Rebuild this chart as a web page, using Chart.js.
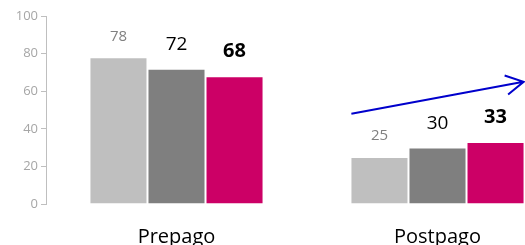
<!DOCTYPE html>
<html>
<head>
<meta charset="utf-8">
<script src="https://cdn.jsdelivr.net/npm/chart.js@4.4.0/dist/chart.umd.min.js"></script>
<style>
  html, body { margin: 0; padding: 0; overflow: hidden; background: #fff; }
  #wrap { width: 568px; height: 245px; position: relative; }
</style>
</head>
<body>
<div id="wrap"><canvas id="chart"></canvas></div>
<script>
const categories = ['Prepago', 'Postpago'];
const seriesA = [78, 25];
const seriesB = [72, 30];
const seriesC = [68, 33];
const yTicks = [0, 20, 40, 60, 80, 100];
// arrow as [category position, value]
const arrowFrom = [0.67, 48];
const arrowTo = [1.33, 65];

const labelStyles = [
    { color: '#808080', font: 'normal 15px "Open Sans"', offset: 21 },
    { color: '#000000', font: 'normal 19px "Open Sans"', offset: 24 },
    { color: '#000000', font: 'bold 20px "Open Sans"', offset: 25 }
];

const valueLabels = {
    id: 'valueLabels',
    afterDatasetsDraw(chart) {
        const ctx = chart.ctx;
        chart.data.datasets.forEach((ds, i) => {
            const st = labelStyles[i];
            chart.getDatasetMeta(i).data.forEach((bar, j) => {
                ctx.save();
                ctx.fillStyle = st.color;
                ctx.font = st.font;
                ctx.textAlign = 'center';
                ctx.textBaseline = 'middle';
                ctx.fillText(String(ds.data[j]), bar.x, bar.y - st.offset);
                ctx.restore();
            });
        });
    }
};

const trendArrow = {
    id: 'trendArrow',
    afterDatasetsDraw(chart) {
        const x = chart.scales.x, y = chart.scales.y, ctx = chart.ctx;
        const x1 = x.getPixelForValue(arrowFrom[0]), y1 = y.getPixelForValue(arrowFrom[1]);
        const x2 = x.getPixelForValue(arrowTo[0]), y2 = y.getPixelForValue(arrowTo[1]);
        const ang = Math.atan2(y2 - y1, x2 - x1);
        const len = 20, spread = 0.5;
        ctx.save();
        ctx.strokeStyle = '#0000CC';
        ctx.lineWidth = 2;
        ctx.beginPath();
        ctx.moveTo(x1, y1);
        ctx.lineTo(x2, y2);
        ctx.moveTo(x2 - len * Math.cos(ang - spread), y2 - len * Math.sin(ang - spread));
        ctx.lineTo(x2, y2);
        ctx.lineTo(x2 - len * Math.cos(ang + spread), y2 - len * Math.sin(ang + spread));
        ctx.stroke();
        ctx.restore();
    }
};

new Chart(document.getElementById('chart'), {
    type: 'bar',
    data: {
        labels: categories,
        datasets: [
            { data: seriesA, backgroundColor: '#BFBFBF' },
            { data: seriesB, backgroundColor: '#7F7F7F' },
            { data: seriesC, backgroundColor: '#CC0066' }
        ].map(d => Object.assign(d, { borderColor: '#FFFFFF', borderWidth: 1, categoryPercentage: 0.667, barPercentage: 1 }))
    },
    options: {
        responsive: true,
        maintainAspectRatio: false,
        animation: false,
        layout: { padding: { top: 16, right: 0, bottom: 0, left: 0 } },
        plugins: { legend: { display: false }, tooltip: { enabled: false } },
        scales: {
            x: {
                afterFit: s => { s.height = 41; },
                grid: { display: false },
                border: { display: false },
                ticks: { color: '#000000', font: { family: 'Open Sans', size: 20 }, padding: 13 }
            },
            y: {
                min: 0, max: 100,
                afterBuildTicks: s => { s.ticks = yTicks.map(v => ({ value: v })); },
                afterFit: s => { s.width = 46; },
                grid: { drawOnChartArea: false, drawTicks: true, tickLength: 5, color: '#BFBFBF' },
                border: { display: true, color: '#BFBFBF', width: 1 },
                ticks: { color: '#A6A6A6', font: { family: 'Open Sans', size: 13 }, padding: 3 }
            }
        }
    },
    plugins: [valueLabels, trendArrow]
});
</script>
</body>
</html>
